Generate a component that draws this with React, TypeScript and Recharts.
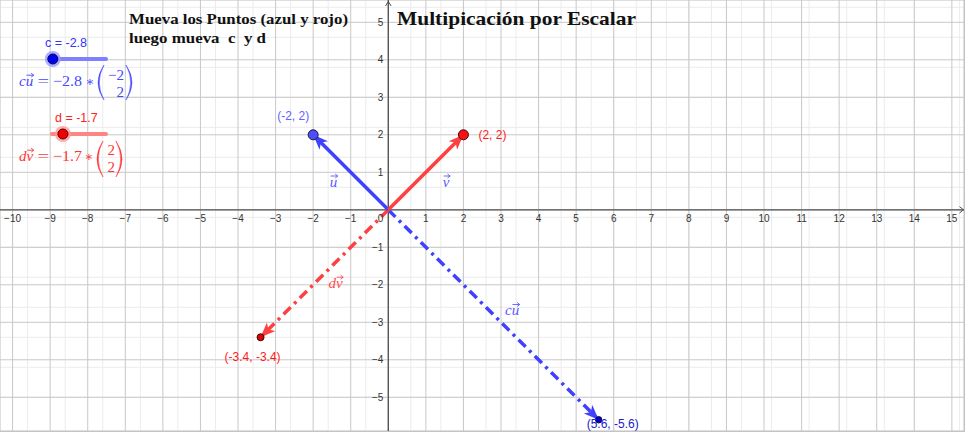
import React from 'react';
import {
  ComposedChart,
  XAxis,
  YAxis,
  CartesianGrid,
  Line,
  Scatter,
  ReferenceLine,
  ReferenceDot,
} from 'recharts';

// ---------------- data ----------------
const X_DOMAIN: [number, number] = [-10.335, 15.323];
const Y_DOMAIN: [number, number] = [-5.899, 5.595];
const X_TICKS = [-10, -9, -8, -7, -6, -5, -4, -3, -2, -1, 0, 1, 2, 3, 4, 5, 6, 7, 8, 9, 10, 11, 12, 13, 14, 15];
const Y_TICKS = [-5, -4, -3, -2, -1, 0, 1, 2, 3, 4, 5];
const X_MINOR_TICKS = Array.from({ length: 128 }, (_, i) => (i - 51) / 5);
const Y_MINOR_TICKS = Array.from({ length: 57 }, (_, i) => (i - 29) / 5);

const C_VALUE = -2.8;
const D_VALUE = -1.7;
const SLIDER_MIN = -3;
const SLIDER_MAX = 3;

const U_END = [-2, 2];
const V_END = [2, 2];
const CU_END = [5.6, -5.6];
const DV_END = [-3.4, -3.4];

const TITLE_LINE_1 = 'Mueva los Puntos (azul y rojo)';
const TITLE_LINE_2 = 'luego mueva  c  y d';
const MAIN_TITLE = 'Multipicación por Escalar';

// ---------------- styles ----------------
const BLUE = '#4040ff';
const RED = '#ff4040';
const AXIS = '#505050';
const SANS = '"Liberation Sans", Arial, sans-serif';
const SERIF = '"Liberation Serif", "Times New Roman", serif';

const fmtAxis = (v: number) => (v < 0 ? `\u2212${-v}` : `${v}`);
const fmtMath = (v: number) => (v < 0 ? `\u2212${-v}` : `${v}`);

const seg = (end: number[]) => [
  { x: 0, y: 0 },
  { x: end[0], y: end[1] },
];

const X_LABELS = X_TICKS.map((t) => ({ x: t, y: 0, label: fmtAxis(t) }));
const Y_LABELS = Y_TICKS.filter((t) => t !== 0).map((t) => ({ x: 0, y: t, label: fmtAxis(t) }));

const POINTS = [
  { id: 'A', x: U_END[0], y: U_END[1] },
  { id: 'B', x: V_END[0], y: V_END[1] },
  { id: 'C', x: DV_END[0], y: DV_END[1] },
  { id: 'D', x: CU_END[0], y: CU_END[1] },
];

const POINT_STYLE: Record<string, any> = {
  A: { r: 5, fill: '#4d4dff', stroke: '#1a1a33', label: '#6262ff', dx: -36, dy: -15 },
  B: { r: 5, fill: '#ff1010', stroke: '#331010', label: '#ff1a1a', dx: 15, dy: 4 },
  C: { r: 3.5, fill: '#e00000', stroke: '#301010', label: '#ff1a1a', dx: -36, dy: 24 },
  D: { r: 3.2, fill: '#0000d0', stroke: '#10103a', label: '#2020d0', dx: -12, dy: 8.5 },
};

const VEC_LABELS = [
  { id: 'u', x: U_END[0] / 2, y: U_END[1] / 2, prefix: '', letter: 'u' },
  { id: 'v', x: V_END[0] / 2, y: V_END[1] / 2, prefix: '', letter: 'v' },
  { id: 'cu', x: CU_END[0] / 2, y: CU_END[1] / 2, prefix: 'c', letter: 'u' },
  { id: 'dv', x: DV_END[0] / 2, y: DV_END[1] / 2, prefix: 'd', letter: 'v' },
];

const VEC_LABEL_STYLE: Record<string, any> = {
  u: { dx: -21, dy: 14.5, color: '#5a5aff' },
  v: { dx: 17, dy: 14.5, color: '#5a5aff' },
  cu: { dx: 11.5, dy: 0.5, color: '#5a5aff' },
  dv: { dx: 4, dy: 14.5, color: '#ff4d4d' },
};

// ---------------- helpers ----------------
function VecName({ x, y, prefix, letter, color, size = 15 }: any) {
  const pw = prefix === 'c' ? 0.444 * size : prefix === 'd' ? 0.5 * size : 0;
  const lw = letter === 'u' ? 0.5 * size : 0.444 * size;
  const lx = x + pw;
  const ay = y - size * 0.72;
  const ax0 = lx + 0.8;
  const ax1 = lx + lw + 0.6;
  return (
    <g>
      {prefix ? (
        <text x={x} y={y} fontFamily={SERIF} fontStyle="italic" fontSize={size} fill={color}>
          {prefix}
        </text>
      ) : null}
      <text x={lx} y={y} fontFamily={SERIF} fontStyle="italic" fontSize={size} fill={color}>
        {letter}
      </text>
      <path
        d={`M${ax0},${ay} L${ax1},${ay} M${ax1 - 2.6},${ay - 2} L${ax1},${ay} L${ax1 - 2.6},${ay + 2}`}
        stroke={color}
        strokeWidth={0.9}
        fill="none"
      />
    </g>
  );
}

function Paren({ x0, top, bottom, color, left }: any) {
  const mid = (top + bottom) / 2;
  if (left) {
    return (
      <path
        d={`M${x0 + 6},${top} Q${x0 - 6},${mid} ${x0 + 6},${bottom} Q${x0 - 3.4},${mid} ${x0 + 6},${top} Z`}
        fill={color}
        stroke={color}
        strokeWidth={0.5}
      />
    );
  }
  return (
    <path
      d={`M${x0},${top} Q${x0 + 12},${mid} ${x0},${bottom} Q${x0 + 9.4},${mid} ${x0},${top} Z`}
      fill={color}
      stroke={color}
      strokeWidth={0.5}
    />
  );
}

function arrowDot(color: string, end: number[]) {
  return (props: any) => {
    const { cx, cy, index, points } = props;
    if (index !== 1 || cx == null || cy == null) return <g key={`d-${index}`} />;
    let dx = end[0];
    let dy = -end[1];
    if (points && points.length > 1) {
      dx = points[1].x - points[0].x;
      dy = points[1].y - points[0].y;
    }
    const len = Math.hypot(dx, dy) || 1;
    const ux = dx / len;
    const uy = dy / len;
    const nx = -uy;
    const ny = ux;
    const L = 15;
    const W = 6;
    const N = 11;
    const pts = [
      [cx, cy],
      [cx - L * ux + W * nx, cy - L * uy + W * ny],
      [cx - N * ux, cy - N * uy],
      [cx - L * ux - W * nx, cy - L * uy - W * ny],
    ];
    return <polygon key={`d-${index}`} points={pts.map((p) => p.join(',')).join(' ')} fill={color} />;
  };
}

const xLabelShape = (p: any) => {
  if (p.payload.x === 0) {
    return (
      <text x={p.cx - 5} y={p.cy + 12.5} textAnchor="end" fontFamily={SANS} fontSize={10} fill="#333">
        {p.payload.label}
      </text>
    );
  }
  return (
    <text x={p.cx} y={p.cy + 12.5} textAnchor="middle" fontFamily={SANS} fontSize={10} fill="#333">
      {p.payload.label}
    </text>
  );
};

const yLabelShape = (p: any) => (
  <text x={p.cx - 5} y={p.cy + 3.6} textAnchor="end" fontFamily={SANS} fontSize={10} fill="#333">
    {p.payload.label}
  </text>
);

const pointShape = (p: any) => {
  const s = POINT_STYLE[p.payload.id];
  return (
    <g>
      <circle cx={p.cx} cy={p.cy} r={s.r} fill={s.fill} stroke={s.stroke} strokeWidth={1} />
      <text x={p.cx + s.dx} y={p.cy + s.dy} fontFamily={SANS} fontSize={12} fill={s.label}>
        {`(${p.payload.x}, ${p.payload.y})`}
      </text>
    </g>
  );
};

const vecLabelShape = (p: any) => {
  const s = VEC_LABEL_STYLE[p.payload.id];
  return (
    <VecName
      x={p.cx + s.dx}
      y={p.cy + s.dy}
      prefix={p.payload.prefix}
      letter={p.payload.letter}
      color={s.color}
    />
  );
};

const yArrowShape = (p: any) => (
  <path
    d={`M${p.cx - 2.8},${p.cy + 6} L${p.cx},${p.cy + 1.5} L${p.cx + 2.8},${p.cy + 6}`}
    stroke={AXIS}
    strokeWidth={1}
    fill="none"
  />
);

const xArrowShape = (p: any) => (
  <path
    d={`M${p.cx - 4.5},${p.cy - 3.2} L${p.cx - 0.5},${p.cy} L${p.cx - 4.5},${p.cy + 3.2}`}
    stroke={AXIS}
    strokeWidth={1}
    fill="none"
  />
);

function Overlay() {
  const knobC = 51 + ((C_VALUE - SLIDER_MIN) / (SLIDER_MAX - SLIDER_MIN)) * 55;
  const knobD = 51 + ((D_VALUE - SLIDER_MIN) / (SLIDER_MAX - SLIDER_MIN)) * 55;
  const fBlue = '#4747ff';
  const fRed = '#ff3535';
  return (
    <svg
      width={966}
      height={433}
      style={{ position: 'absolute', left: 0, top: 0, pointerEvents: 'none' }}
    >
      <text x={129} y={24} fontFamily={SERIF} fontWeight="bold" fontSize={15} fill="#111" textLength={219} lengthAdjust="spacingAndGlyphs">
        {TITLE_LINE_1}
      </text>
      <text x={129} y={43} fontFamily={SERIF} fontWeight="bold" fontSize={15} fill="#111" textLength={137} lengthAdjust="spacingAndGlyphs" style={{ whiteSpace: 'pre' }}>
        {TITLE_LINE_2}
      </text>
      <text x={397} y={25} fontFamily={SERIF} fontWeight="bold" fontSize={19} fill="#111" textLength={239} lengthAdjust="spacingAndGlyphs">
        {MAIN_TITLE}
      </text>

      {/* slider c */}
      <text x={45} y={47} fontFamily={SANS} fontSize={12.5} fill="#3434ff">{`c = ${C_VALUE}`}</text>
      <line x1={52} y1={59} x2={106} y2={59} stroke="#7f7fff" strokeWidth={4} strokeLinecap="round" />
      <circle cx={knobC} cy={59} r={8} fill="#9a9aff" opacity={0.8} />
      <circle cx={knobC} cy={59} r={5} fill="#0000f0" stroke="#00005a" strokeWidth={1} />

      {/* formula c u */}
      <VecName x={19} y={86} prefix="c" letter="u" color={fBlue} />
      <text x={37.5} y={86} fontFamily={SERIF} fontSize={15} fill={fBlue} textLength={11.5} lengthAdjust="spacingAndGlyphs">=</text>
      <text x={53} y={86} fontFamily={SERIF} fontSize={15} fill={fBlue} textLength={29} lengthAdjust="spacingAndGlyphs">{fmtMath(C_VALUE)}</text>
      <text x={85.5} y={86} fontFamily='"DejaVu Serif", serif' fontSize={13} fill={fBlue}>{'\u2217'}</text>
      <Paren x0={98} top={65} bottom={100} color={fBlue} left />
      <text x={124} y={80} textAnchor="end" fontFamily={SERIF} fontSize={15} fill={fBlue}>{fmtMath(U_END[0])}</text>
      <text x={124} y={97} textAnchor="end" fontFamily={SERIF} fontSize={15} fill={fBlue}>{fmtMath(U_END[1])}</text>
      <Paren x0={126} top={65} bottom={100} color={fBlue} />

      {/* slider d */}
      <text x={55} y={122} fontFamily={SANS} fontSize={12.5} fill="#ff2020">{`d = ${D_VALUE}`}</text>
      <line x1={52} y1={134} x2={106} y2={134} stroke="#ff8484" strokeWidth={4} strokeLinecap="round" />
      <circle cx={knobD} cy={134} r={8} fill="#ff9a9a" opacity={0.8} />
      <circle cx={knobD} cy={134} r={5} fill="#f00000" stroke="#5a0000" strokeWidth={1} />

      {/* formula d v */}
      <VecName x={19} y={161} prefix="d" letter="v" color={fRed} />
      <text x={37.5} y={161} fontFamily={SERIF} fontSize={15} fill={fRed} textLength={11.5} lengthAdjust="spacingAndGlyphs">=</text>
      <text x={53} y={161} fontFamily={SERIF} fontSize={15} fill={fRed} textLength={29} lengthAdjust="spacingAndGlyphs">{fmtMath(D_VALUE)}</text>
      <text x={84.5} y={161} fontFamily='"DejaVu Serif", serif' fontSize={13} fill={fRed}>{'\u2217'}</text>
      <Paren x0={97} top={141} bottom={177} color={fRed} left />
      <text x={115} y={155} textAnchor="end" fontFamily={SERIF} fontSize={15} fill={fRed}>{fmtMath(V_END[0])}</text>
      <text x={115} y={172} textAnchor="end" fontFamily={SERIF} fontSize={15} fill={fRed}>{fmtMath(V_END[1])}</text>
      <Paren x0={116} top={141} bottom={177} color={fRed} />
    </svg>
  );
}

export default function App() {
  return (
    <div style={{ position: 'absolute', left: 0, top: 0, width: 966, height: 433, background: '#fff' }}>
      <div
        style={{
          position: 'absolute',
          left: 0,
          top: 0,
          width: 964,
          height: 431,
          borderRight: '1px solid #c4c4c4',
          borderBottom: '1px solid #c4c4c4',
        }}
      >
        <ComposedChart width={964} height={431} margin={{ top: 0, right: 0, bottom: 0, left: 0 }}>
          <XAxis type="number" dataKey="x" domain={X_DOMAIN} ticks={X_TICKS} allowDataOverflow hide />
          <YAxis type="number" dataKey="y" domain={Y_DOMAIN} ticks={Y_TICKS} allowDataOverflow hide />
          <XAxis xAxisId="minor" type="number" dataKey="x" domain={X_DOMAIN} ticks={X_MINOR_TICKS} allowDataOverflow hide />
          <YAxis yAxisId="minor" type="number" dataKey="y" domain={Y_DOMAIN} ticks={Y_MINOR_TICKS} allowDataOverflow hide />
          <CartesianGrid xAxisId="minor" yAxisId="minor" stroke="#ececec" strokeWidth={1} />
          <CartesianGrid stroke="#c8c8c8" strokeWidth={1} />
          <ReferenceLine y={0} stroke={AXIS} strokeWidth={1.3} />
          <ReferenceLine x={0} stroke={AXIS} strokeWidth={1.3} />
          <ReferenceDot x={0} y={Y_DOMAIN[1]} shape={yArrowShape} ifOverflow="visible" />
          <ReferenceDot x={X_DOMAIN[1]} y={0} shape={xArrowShape} ifOverflow="visible" />
          <Scatter data={X_LABELS} shape={xLabelShape} isAnimationActive={false} legendType="none" />
          <Scatter data={Y_LABELS} shape={yLabelShape} isAnimationActive={false} legendType="none" />

          <Line data={seg(CU_END)} dataKey="y" type="linear" stroke={BLUE} strokeWidth={3.5} strokeDasharray="10 5 3 5" dot={arrowDot(BLUE, CU_END)} activeDot={false} isAnimationActive={false} legendType="none" />
          <Line data={seg(DV_END)} dataKey="y" type="linear" stroke={RED} strokeWidth={3.5} strokeDasharray="10 5 3 5" dot={arrowDot(RED, DV_END)} activeDot={false} isAnimationActive={false} legendType="none" />
          <Line data={seg(U_END)} dataKey="y" type="linear" stroke={BLUE} strokeWidth={3.5} dot={arrowDot(BLUE, U_END)} activeDot={false} isAnimationActive={false} legendType="none" />
          <Line data={seg(V_END)} dataKey="y" type="linear" stroke={RED} strokeWidth={3.5} dot={arrowDot(RED, V_END)} activeDot={false} isAnimationActive={false} legendType="none" />

          <Scatter data={POINTS} shape={pointShape} isAnimationActive={false} legendType="none" />
          <Scatter data={VEC_LABELS} shape={vecLabelShape} isAnimationActive={false} legendType="none" />
        </ComposedChart>
      </div>
      <Overlay />
    </div>
  );
}
